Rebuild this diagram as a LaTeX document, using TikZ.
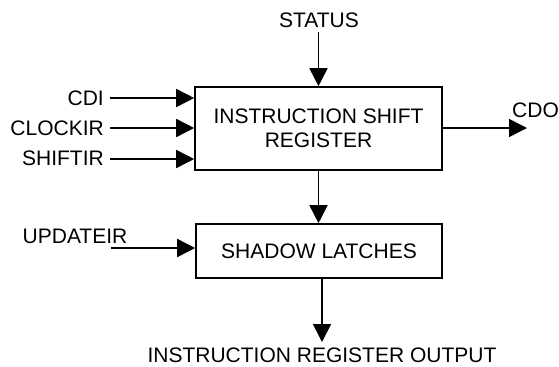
\documentclass[tikz,border=0pt]{standalone}
\usepackage{fontspec}
\setmainfont{Liberation Sans}
\usetikzlibrary{arrows.meta}
\begin{document}
\begin{tikzpicture}[x=1bp,y=-1bp,
  every node/.style={font=\fontsize{21bp}{23.5bp}\selectfont, inner sep=0pt},
  blockbox/.style={draw, line width=1.6bp, align=center},
  sig/.style={line width=1.6bp, -{Triangle[length=18bp,width=18bp]}},
  lbl/.style={anchor=east}]
\useasboundingbox (0,0) rectangle (559,366);
% blocks
\node[blockbox, minimum width=247bp, minimum height=83bp] (isr) at (318.5,128.5) {INSTRUCTION SHIFT\\REGISTER};
\node[blockbox, minimum width=246bp, minimum height=54bp] (sl) at (319,251) {SHADOW LATCHES};
% labels
\node (status) at (319,20) {STATUS};
\node[lbl] (cdi) at (104,98) {CDI};
\node[lbl] (clockir) at (104,128) {CLOCKIR};
\node[lbl] (shiftir) at (104,158) {SHIFTIR};
\node (updateir) at (75,236) {UPDATEIR};
\node (cdo) at (535.5,110) {CDO};
\node (iro) at (322,355) {INSTRUCTION REGISTER OUTPUT};
% free ends
\coordinate (stS) at (318.5,32);
\coordinate (cdiS) at (110,98);
\coordinate (clkS) at (110,128);
\coordinate (shS) at (110,159);
\coordinate (upS) at (111,248);
\coordinate (cdoE) at (527,128);
\coordinate (outE) at (322,342);
% connectors
\draw[sig] (stS) -- (stS |- isr.north);
\draw[sig] (cdiS) -- (cdiS -| isr.west);
\draw[sig] (clkS) -- (clkS -| isr.west);
\draw[sig] (shS) -- (shS -| isr.west);
\draw[sig] (cdoE -| isr.east) -- (cdoE);
\draw[sig] (isr.south) -- (isr.south |- sl.north);
\draw[sig] (upS) -- (upS -| sl.west);
\draw[sig] (outE |- sl.south) -- (outE);
\end{tikzpicture}
\end{document}
